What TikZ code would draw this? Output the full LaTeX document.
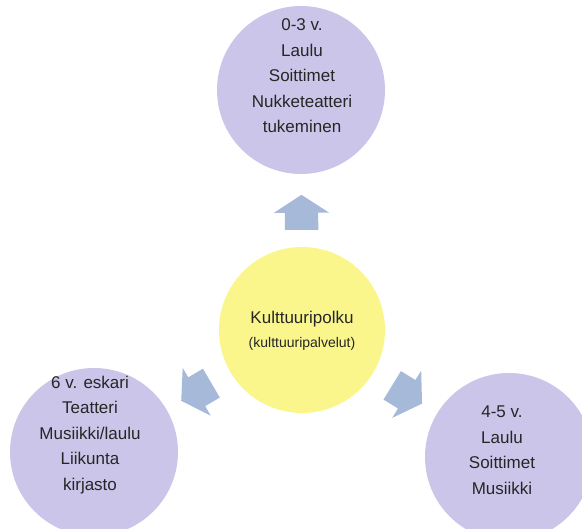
\documentclass[tikz,border=0pt]{standalone}
\usepackage{fontspec}
\setmainfont{Liberation Sans}
\usetikzlibrary{calc,shapes.arrows}
\definecolor{lila}{RGB}{203,197,233}
\definecolor{keltainen}{RGB}{250,246,140}
\definecolor{sininen}{RGB}{167,185,217}

\begin{document}
\begin{tikzpicture}[x=1pt,y=1pt,
    ympyra/.style={circle,fill=lila,minimum size=168pt,inner sep=0pt},
    teksti/.style={align=center,text=black!85,font=\fontsize{17}{25.5}\selectfont},
    nuoli/.style={single arrow,fill=sininen,minimum height=35pt,minimum width=55pt,
        single arrow head extend=11pt,single arrow tip angle=114,
        inner xsep=0pt,inner ysep=16.5pt,sloped,allow upside down}]
            \useasboundingbox (0,0) rectangle (582,529);
            \node[ympyra,fill=keltainen,minimum size=166pt] (K) at (302,199) {};
            \node[ympyra] (Y) at (301,439) {};
            \node[ympyra] (V) at (94,77) {};
            \node[ympyra] (O) at (509,72) {};
            \node[teksti] (Kt) at (302,198) {Kulttuuripolku\\[-1pt]{\fontsize{14}{21}\selectfont(kulttuuripalvelut)}};
            \node[teksti] (Yt) at ($(Y)+(1,14)$) {0-3 v.\\Laulu\\Soittimet\\Nukketeatteri\\tukeminen};
            \node[teksti] (Vt) at ($(V)+(-4,17)$) {6 v. eskari\\Teatteri\\Musiikki/laulu\\Liikunta\\kirjasto};
            \node[teksti] (Ot) at ($(O)+(-7,7)$) {4-5 v.\\Laulu\\Soittimet\\Musiikki};
            \path (K) -- node[nuoli,pos=0.4] (nY) {} (Y);
            \path (K) -- node[nuoli,pos=0.46] (nV) {} (V);
            \path (K) -- node[nuoli,pos=0.46] (nO) {} (O);
            % \draw (K) -- (Y);
\end{tikzpicture}
\end{document}
